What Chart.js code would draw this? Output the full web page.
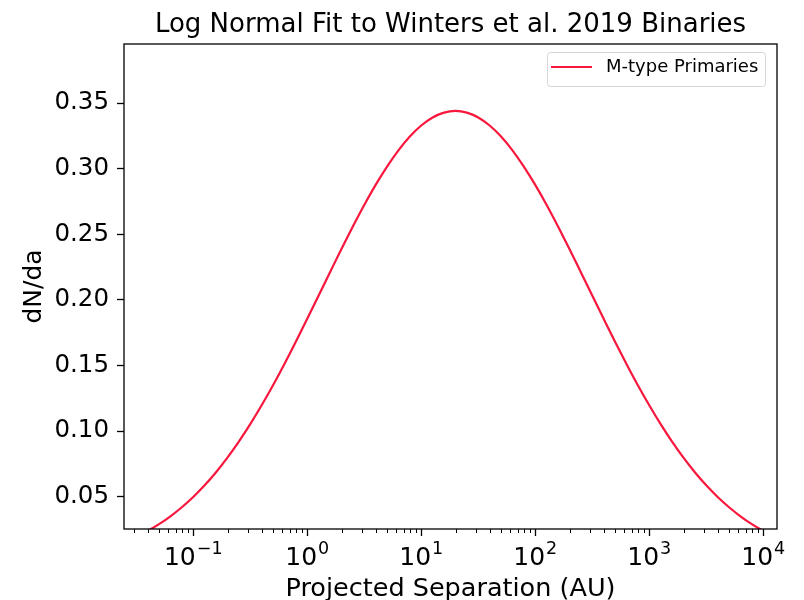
<!DOCTYPE html>
<html>
<head>
<meta charset="utf-8">
<title>Log Normal Fit to Winters et al. 2019 Binaries</title>
<script src="https://cdn.jsdelivr.net/npm/chart.js@4.4.1/dist/chart.umd.min.js"></script>
<style>
  html, body { margin: 0; padding: 0; background: #fff; }
  #wrap { width: 804px; height: 600px; }
</style>
</head>
<body>
<div id="wrap"><canvas id="fitChart" width="804" height="600"></canvas></div>
<script>
// projected separation (AU), one sample every 0.1 dex
var separationAU = [0.01995, 0.02512, 0.03162, 0.03981, 0.05012, 0.0631, 0.07943,
                    0.1, 0.1259, 0.1585, 0.1995, 0.2512, 0.3162, 0.3981, 0.5012, 0.631, 0.7943,
                    1, 1.259, 1.585, 1.995, 2.512, 3.162, 3.981, 5.012, 6.31, 7.943,
                    10, 12.59, 15.85, 19.95, 25.12, 31.62, 39.81, 50.12, 63.1, 79.43,
                    100, 125.9, 158.5, 199.5, 251.2, 316.2, 398.1, 501.2, 631, 794.3,
                    1000, 1259, 1585, 1995, 2512, 3162, 3981, 5012, 6310, 7943,
                    10000, 12590, 15850, 19950];
// log normal fit, dN/da
var dNda = [0.0129, 0.0159, 0.0196, 0.0240, 0.0291, 0.0351, 0.0420, 0.0498, 0.0587, 0.0687,
            0.0798, 0.0920, 0.1053, 0.1197, 0.1350, 0.1512, 0.1681, 0.1856, 0.2033, 0.2211,
            0.2388, 0.2559, 0.2723, 0.2876, 0.3016, 0.3140, 0.3245, 0.3329, 0.3390, 0.3427,
            0.3440,
            0.3427, 0.3390, 0.3329, 0.3245, 0.3140, 0.3016, 0.2876, 0.2723, 0.2559, 0.2388,
            0.2211, 0.2033, 0.1856, 0.1681, 0.1512, 0.1350, 0.1197, 0.1053, 0.0920, 0.0798,
            0.0687, 0.0587, 0.0498, 0.0420, 0.0351, 0.0291, 0.0240, 0.0196, 0.0159, 0.0129];
var xRange = [0.0247, 13200];
var yRange = [0.0254, 0.395];
var yStep = 0.05;
var xDecades = [-1, 0, 1, 2, 3, 4];
var seriesName = 'M-type Primaries';
var chartTitle = 'Log Normal Fit to Winters et al. 2019 Binaries';

var FONT = '"DejaVu Sans", sans-serif';
var lineColor = '#f8173d';

Chart.defaults.font.family = FONT;
Chart.defaults.color = '#000';

// frame, log ticks with 10^n labels, legend box and title
var decorPlugin = {
  id: 'decor',
  afterDraw: function(chart) {
    var ctx = chart.ctx, a = chart.chartArea, xs = chart.scales.x;
    ctx.save();

    // minor and major ticks along the bottom
    ctx.strokeStyle = '#000';
    for (var e = -2; e <= 4; e++) {
      for (var m = 1; m <= 9; m++) {
        var v = m * Math.pow(10, e);
        if (v < xRange[0] || v > xRange[1]) continue;
        var px = Math.round(xs.getPixelForValue(v)) + 0.5;
        ctx.lineWidth = m === 1 ? 1.3 : 1;
        ctx.beginPath();
        ctx.moveTo(px, a.bottom);
        ctx.lineTo(px, a.bottom + (m === 1 ? 7 : 4));
        ctx.stroke();
      }
    }

    // decade labels
    ctx.fillStyle = '#000';
    ctx.textAlign = 'left';
    ctx.textBaseline = 'alphabetic';
    xDecades.forEach(function(p) {
      var x = xs.getPixelForValue(Math.pow(10, p));
      var sup = p < 0 ? '\u2212' + (-p) : String(p);
      ctx.font = '25px ' + FONT;
      var wb = ctx.measureText('10').width;
      ctx.font = '17.5px ' + FONT;
      var ws = ctx.measureText(sup).width;
      var left = x - (wb + ws + 1) / 2;
      ctx.font = '25px ' + FONT;
      ctx.fillText('10', left, 565);
      ctx.font = '17.5px ' + FONT;
      ctx.fillText(sup, left + wb + 1, 554);
    });

    // axes frame
    ctx.lineWidth = 1.3;
    ctx.strokeStyle = '#000';
    ctx.strokeRect(a.left, a.top, a.right - a.left, a.bottom - a.top);

    // legend
    ctx.fillStyle = 'rgba(255,255,255,0.8)';
    ctx.strokeStyle = '#d6d6d6';
    ctx.lineWidth = 1;
    ctx.beginPath();
    ctx.roundRect(547.5, 52.5, 218, 34, 3);
    ctx.fill();
    ctx.stroke();
    ctx.strokeStyle = lineColor;
    ctx.lineWidth = 2;
    ctx.beginPath();
    ctx.moveTo(551, 67);
    ctx.lineTo(592, 67);
    ctx.stroke();
    ctx.fillStyle = '#000';
    ctx.font = '18px ' + FONT;
    ctx.textBaseline = 'middle';
    ctx.fillText(seriesName, 606, 67);

    // title
    ctx.font = '26px ' + FONT;
    ctx.textAlign = 'center';
    ctx.textBaseline = 'alphabetic';
    ctx.fillText(chartTitle, (a.left + a.right) / 2, 32);

    ctx.restore();
  }
};

var points = separationAU.map(function(a, i) { return {x: a, y: dNda[i]}; });

new Chart(document.getElementById('fitChart'), {
  type: 'line',
  data: {
    datasets: [{
      label: seriesName,
      data: points,
      borderColor: lineColor,
      borderWidth: 2.2,
      pointRadius: 0,
      fill: false,
      cubicInterpolationMode: 'monotone'
    }]
  },
  options: {
    responsive: false,
    animation: false,
    layout: { padding: { top: 44, right: 27, left: 0, bottom: 0 } },
    plugins: {
      legend: { display: false },
      tooltip: { enabled: false },
      title: { display: false }
    },
    scales: {
      x: {
        type: 'logarithmic',
        position: 'bottom',
        min: xRange[0],
        max: xRange[1],
        ticks: { display: false },
        grid: { display: false },
        border: { display: false },
        title: {
          display: true,
          text: 'Projected Separation (AU)',
          font: { size: 25.5, lineHeight: 0.8 },
          padding: { top: 0, bottom: 0 }
        },
        afterFit: function(s) { s.height = 71; }
      },
      y: {
        type: 'linear',
        min: yRange[0],
        max: yRange[1],
        ticks: {
          stepSize: yStep,
          includeBounds: false,
          padding: 8,
          font: { size: 24.5 },
          callback: function(v) { return v.toFixed(2); }
        },
        grid: {
          display: true,
          drawOnChartArea: false,
          drawTicks: true,
          tickLength: 7,
          tickColor: '#000',
          tickWidth: 1.3
        },
        border: { display: false },
        title: {
          display: true,
          text: 'dN/da',
          font: { size: 25 },
          padding: { top: 19, bottom: 0 }
        },
        afterFit: function(s) { s.width = 124; }
      }
    }
  },
  plugins: [decorPlugin]
});
</script>
</body>
</html>
